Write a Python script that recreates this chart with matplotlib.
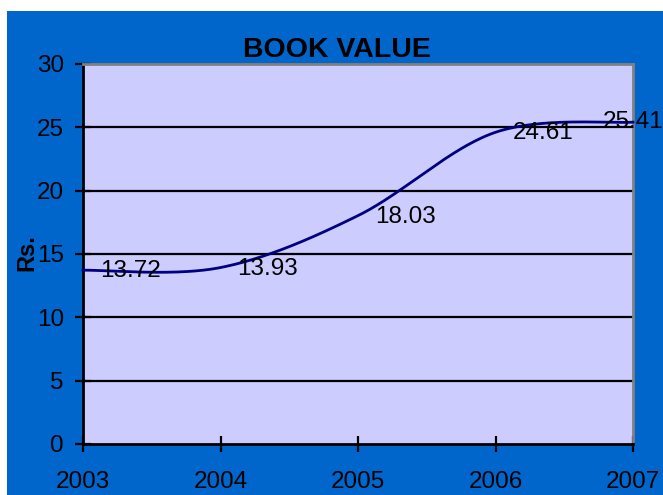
import matplotlib
matplotlib.use("Agg")
import matplotlib.pyplot as plt
import numpy as np
from matplotlib.patches import Rectangle

years = [2003, 2004, 2005, 2006, 2007]
book_value = [13.72, 13.93, 18.03, 24.61, 25.41]
value_labels = ["13.72", "13.93", "18.03", "24.61", "25.41"]
y_ticks = [0, 5, 10, 15, 20, 25, 30]

plt.rcParams['font.family'] = ['Liberation Sans', 'DejaVu Sans']

W, H = 663, 495
fig = plt.figure(figsize=(W / 100, H / 100), dpi=100)
fig.patch.set_facecolor('white')
bg = Rectangle((7 / W, 0), 1 - 7 / W, 1 - 11 / H,
               transform=fig.transFigure, facecolor='#0066CC',
               edgecolor='none', zorder=-10)
fig.patches.append(bg)

ax = fig.add_axes([83 / W, (H - 444) / H, 550 / W, 380 / H])
ax.set_zorder(5)
ax.set_facecolor('#CCCCFF')


def excel_smooth(xs, ys, n=60):
    P = np.column_stack([xs, ys]).astype(float)
    Pext = np.vstack([P[0], P, P[-1]])
    out = []
    for i in range(len(P) - 1):
        p0, p1, p2, p3 = Pext[i], Pext[i + 1], Pext[i + 2], Pext[i + 3]
        c1 = p1 + (p2 - p0) / 6
        c2 = p2 - (p3 - p1) / 6
        t = np.linspace(0, 1, n)[:, None]
        seg = ((1 - t) ** 3) * p1 + 3 * ((1 - t) ** 2) * t * c1 + 3 * (1 - t) * t ** 2 * c2 + t ** 3 * p2
        out.append(seg if i == 0 else seg[1:])
    c = np.vstack(out)
    return c[:, 0], c[:, 1]


sx, sy = excel_smooth(years, book_value)
ax.plot(sx, sy, color='#000080', lw=2, zorder=3, clip_on=False)

for i, (x, y, s) in enumerate(zip(years, book_value, value_labels)):
    if i == len(years) - 1:
        ax.annotate(s, (x, y), xytext=(0, 0), textcoords='offset pixels',
                    ha='center', va='center', fontsize=17.5, color='black',
                    annotation_clip=False, zorder=4)
    else:
        ax.annotate(s, (x, y), xytext=(17, -1), textcoords='offset pixels',
                    ha='left', va='center', fontsize=17.5, color='black',
                    annotation_clip=False, zorder=4)

ax.set_xlim(years[0], years[-1])
ax.set_ylim(0, 30)
ax.set_xticks(years)
ax.set_xticklabels([str(y) for y in years])
ax.set_yticks(y_ticks)
for v in y_ticks[1:-1]:
    ax.axhline(v, color='black', lw=1.6, zorder=1)

ax.tick_params(axis='both', direction='inout', length=11.5, width=1.6,
               colors='black', labelsize=17.5)
ax.tick_params(axis='x', pad=13.5)
ax.tick_params(axis='y', pad=8)

for side in ['left', 'bottom']:
    ax.spines[side].set_color('black')
    ax.spines[side].set_linewidth(2)
for side in ['top', 'right']:
    ax.spines[side].set_color('#808080')
    ax.spines[side].set_linewidth(2)

ax.set_ylabel('Rs.', fontsize=17, fontweight='bold', color='black')
ax.yaxis.set_label_coords((38 - 83) / 550, (444 - 253) / 380)

fig.text(337 / W, 1 - 57 / H, 'BOOK VALUE', ha='center', va='baseline',
         fontsize=20.5, fontweight='bold', color='black')

fig.savefig('out.png', dpi=100, facecolor=fig.get_facecolor())
